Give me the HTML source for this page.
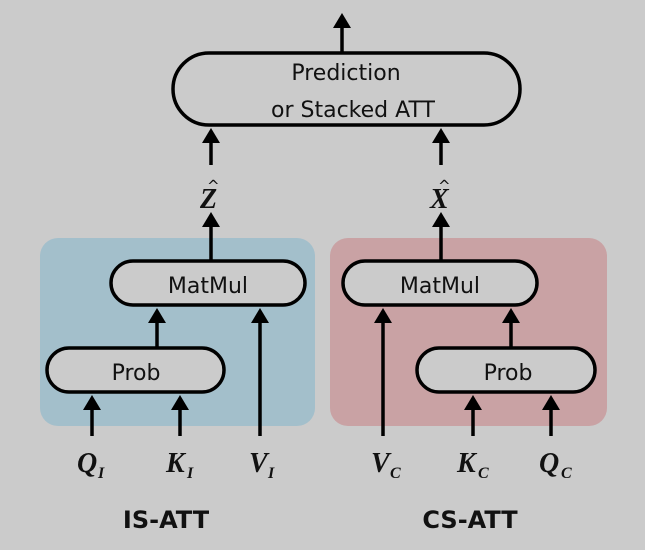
<!DOCTYPE html>
<html><head><style>
html,body{margin:0;padding:0;background:#cbcbcb;}
svg{display:block;}
.t{font-family:"DejaVu Sans","Liberation Sans",sans-serif;font-size:22px;fill:#111;}
.m{font-family:"Liberation Serif",serif;font-style:italic;font-weight:bold;font-size:28px;fill:#111;}
.s{font-family:"Liberation Serif",serif;font-style:italic;font-weight:bold;font-size:16px;fill:#111;}
.b{font-family:"DejaVu Sans","Liberation Sans",sans-serif;font-weight:bold;font-size:24px;fill:#111;}
</style></head><body>
<svg width="645" height="550" viewBox="0 0 645 550">
<rect width="645" height="550" fill="#cbcbcb"/>
<rect x="40" y="238" width="275" height="188" rx="18" fill="#a3bfcb"/>
<rect x="330" y="238" width="277" height="188" rx="18" fill="#c9a2a4"/>
<g fill="#cbcbcb" stroke="#000" stroke-width="3.5">
<rect x="173" y="53" width="347" height="72" rx="36"/>
<rect x="111" y="261" width="194" height="44" rx="22"/>
<rect x="47" y="348" width="177" height="44" rx="22"/>
<rect x="343" y="261" width="194" height="44" rx="22"/>
<rect x="417" y="348" width="178" height="44" rx="22"/>
</g>
<g fill="none" stroke="#000" stroke-width="3.5">
<line x1="342" y1="52" x2="342" y2="24"/>
<line x1="211" y1="165" x2="211" y2="136"/>
<line x1="441" y1="165" x2="441" y2="136"/>
<line x1="211" y1="261" x2="211" y2="222"/>
<line x1="441" y1="261" x2="441" y2="222"/>
<line x1="157" y1="347" x2="157" y2="318"/>
<line x1="92" y1="436" x2="92" y2="405"/>
<line x1="180" y1="436" x2="180" y2="405"/>
<line x1="260" y1="436" x2="260" y2="318"/>
<line x1="383" y1="436" x2="383" y2="318"/>
<line x1="511" y1="347" x2="511" y2="318"/>
<line x1="473" y1="436" x2="473" y2="405"/>
<line x1="551" y1="436" x2="551" y2="405"/>
</g>
<g fill="#000">
<polygon points="342,13 333,28 351,28"/>
<polygon points="211,128 202,143 220,143"/>
<polygon points="441,128 432,143 450,143"/>
<polygon points="211,212 202,227 220,227"/>
<polygon points="441,212 432,227 450,227"/>
<polygon points="157,308 148,323 166,323"/>
<polygon points="92,395 83,410 101,410"/>
<polygon points="180,395 171,410 189,410"/>
<polygon points="260,308 251,323 269,323"/>
<polygon points="383,308 374,323 392,323"/>
<polygon points="511,308 502,323 520,323"/>
<polygon points="473,395 464,410 482,410"/>
<polygon points="551,395 542,410 560,410"/>
</g>
<text class="t" x="346" y="80" text-anchor="middle">Prediction</text>
<text class="t" x="353" y="117" text-anchor="middle">or Stacked ATT</text>
<text class="t" x="208" y="293" text-anchor="middle">MatMul</text>
<text class="t" x="440" y="293" text-anchor="middle">MatMul</text>
<text class="t" x="136" y="380" text-anchor="middle">Prob</text>
<text class="t" x="508" y="380" text-anchor="middle">Prob</text>
<text class="m" x="200" y="208">Z</text><text class="t" x="207" y="191" style="font-size:15px">^</text>
<text class="m" x="430" y="208">X</text><text class="t" x="438" y="191" style="font-size:15px">^</text>
<text class="m" x="77" y="472">Q</text><text class="s" x="98" y="478">I</text>
<text class="m" x="166" y="472">K</text><text class="s" x="187" y="478">I</text>
<text class="m" x="249" y="472">V</text><text class="s" x="268" y="478">I</text>
<text class="m" x="371" y="472">V</text><text class="s" x="390" y="478">C</text>
<text class="m" x="457" y="472">K</text><text class="s" x="478" y="478">C</text>
<text class="m" x="539" y="472">Q</text><text class="s" x="561" y="478">C</text>
<text class="b" x="166" y="528" text-anchor="middle">IS-ATT</text>
<text class="b" x="470" y="528" text-anchor="middle">CS-ATT</text>
</svg>
</body></html>
